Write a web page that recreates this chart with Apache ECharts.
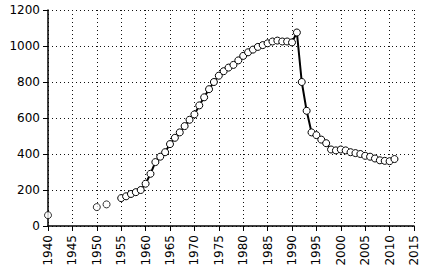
<!DOCTYPE html>
<html>
<head>
<meta charset="utf-8">
<script src="https://cdn.jsdelivr.net/npm/echarts@6/dist/echarts.min.js"></script>
<style>
  html, body { margin: 0; padding: 0; background: #fff; }
  #main { width: 426px; height: 275px; }
</style>
</head>
<body>
<div id="main"></div>
<script>
// isolated early points (not joined)
var earlyYears = [1940, 1950, 1952];
var earlyValues = [60, 105, 120];

// annual series 1955-2011
var years = [1955, 1956, 1957, 1958, 1959, 1960, 1961, 1962, 1963, 1964,
  1965, 1966, 1967, 1968, 1969, 1970, 1971, 1972, 1973, 1974,
  1975, 1976, 1977, 1978, 1979, 1980, 1981, 1982, 1983, 1984,
  1985, 1986, 1987, 1988, 1989, 1990, 1991, 1992, 1993, 1994,
  1995, 1996, 1997, 1998, 1999, 2000, 2001, 2002, 2003, 2004,
  2005, 2006, 2007, 2008, 2009, 2010, 2011];
var values = [155, 165, 178, 188, 200, 235, 290, 355, 385, 410,
  455, 490, 520, 555, 590, 620, 670, 715, 760, 800,
  835, 860, 880, 895, 920, 945, 965, 980, 995, 1005,
  1015, 1025, 1030, 1025, 1025, 1020, 1075, 800, 640, 520,
  505, 480, 460, 425, 420, 425, 420, 410, 405, 400,
  390, 385, 375, 365, 362, 360, 372];

var xMin = 1940, xMax = 2015, xStep = 5;
var yMin = 0, yMax = 1200, yStep = 200;

function pairs(xs, ys) {
  var out = [];
  for (var i = 0; i < xs.length; i++) {
    out.push([xs[i], ys[i]]);
  }
  return out;
}

// svg renderer: rotated x labels
var chart = echarts.init(document.getElementById('main'), null, { renderer: 'svg' });

var gridLine = {
  show: true,
  lineStyle: { color: '#111', width: 1, type: [1, 3] }
};

chart.setOption({
  animation: false,
  backgroundColor: '#fff',
  grid: { left: 48, right: 12, top: 10, bottom: 49, containLabel: false },
  xAxis: {
    type: 'value',
    min: xMin,
    max: xMax,
    interval: xStep,
    axisLine: { show: true, onZero: false, lineStyle: { color: '#000', width: 1.5 } },
    axisTick: { show: true, length: 5, lineStyle: { color: '#000' } },
    axisLabel: {
      rotate: 90,
      margin: 9,
      color: '#000',
      fontFamily: 'DejaVu Sans',
      fontSize: 12,
      formatter: function (v) { return String(v); }
    },
    splitLine: gridLine
  },
  yAxis: {
    type: 'value',
    min: yMin,
    max: yMax,
    interval: yStep,
    axisLine: { show: true, lineStyle: { color: '#000', width: 1.5 } },
    axisTick: { show: true, length: 5, lineStyle: { color: '#000' } },
    axisLabel: {
      margin: 8,
      color: '#000',
      fontFamily: 'DejaVu Sans',
      fontSize: 12,
      formatter: function (v) { return String(v); }
    },
    splitLine: gridLine
  },
  series: [{
    type: 'scatter',
    data: pairs(earlyYears, earlyValues),
    symbol: 'circle',
    symbolSize: 7,
    itemStyle: { color: '#fff', borderColor: '#000', borderWidth: 1 }
  }, {
    type: 'line',
    data: pairs(years, values),
    symbol: 'circle',
    symbolSize: 7,
    showAllSymbol: true,
    lineStyle: { color: '#000', width: 2 },
    itemStyle: { color: '#fff', borderColor: '#000', borderWidth: 1 }
  }]
});
</script>
</body>
</html>
